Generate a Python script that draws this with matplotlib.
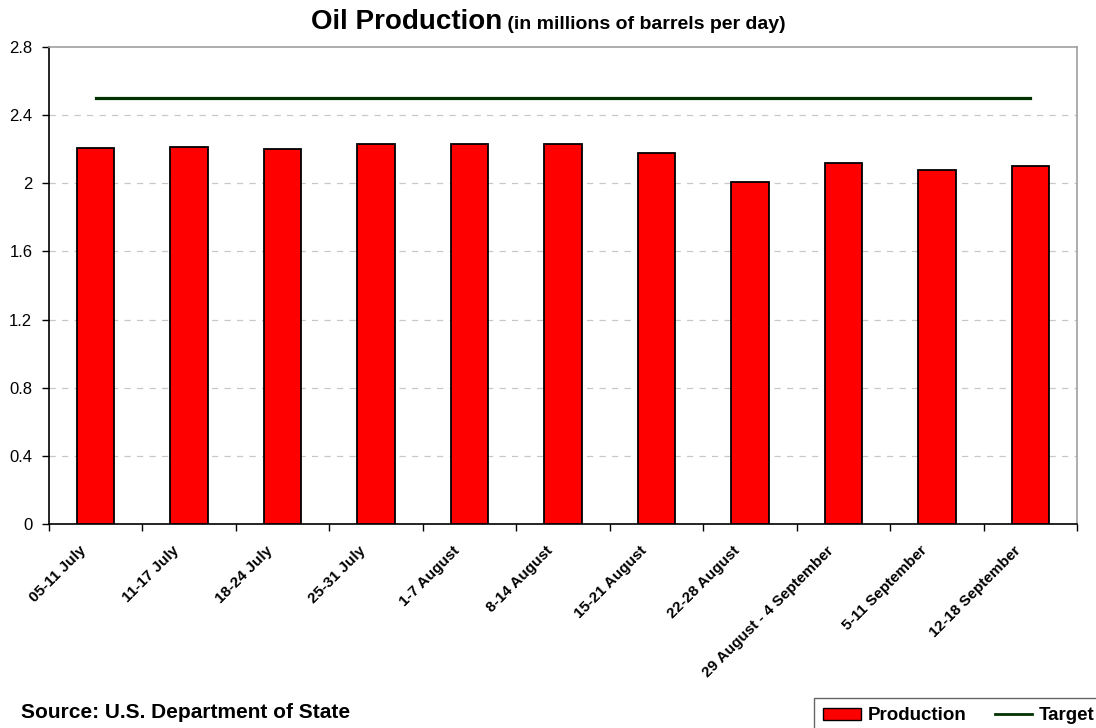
import matplotlib
matplotlib.use("Agg")
import matplotlib.pyplot as plt
import matplotlib.transforms as mtransforms
import numpy as np
from matplotlib.patches import Patch
from matplotlib.lines import Line2D

categories = ["05-11 July", "11-17 July", "18-24 July", "25-31 July", "1-7 August",
              "8-14 August", "15-21 August", "22-28 August", "29 August - 4 September",
              "5-11 September", "12-18 September"]
production = [2.205, 2.212, 2.199, 2.228, 2.228, 2.228, 2.176, 2.009, 2.122, 2.077, 2.10]
target = [2.5] * len(categories)
yticks = [0, 0.4, 0.8, 1.2, 1.6, 2.0, 2.4, 2.8]
ytick_labels = ["0", "0.4", "0.8", "1.2", "1.6", "2", "2.4", "2.8"]

plt.rcParams['font.family'] = ['Liberation Sans', 'DejaVu Sans']

fig = plt.figure(figsize=(10.96, 7.28), dpi=100)
ax = fig.add_axes([49/1096, 1-524/728, (1077-49)/1096, (524-47)/728])

x = np.arange(len(categories))
ax.bar(x, production, width=0.4, color='#ff0000', edgecolor='black', linewidth=1.3, zorder=3)
ax.plot(x, target, color='#003300', linewidth=2.3, zorder=4)

ax.set_xlim(-0.5, len(categories) - 0.5)
ax.set_ylim(0, 2.8)
ax.set_yticks(yticks)
ax.set_yticklabels(ytick_labels, fontsize=12)
for yv in yticks[1:-1]:
    ax.axhline(yv, color='#c8c8c8', linestyle=(0, (5, 5)), linewidth=0.9, zorder=1)

ax.set_xticks(x)
ax.set_xticklabels(categories, rotation=45, ha='right', rotation_mode='anchor',
                   fontsize=11, fontweight='bold')
ax.tick_params(axis='x', which='major', length=0, pad=6)
offset = mtransforms.ScaledTranslation(-0.17, -0.11, fig.dpi_scale_trans)
for lbl in ax.get_xticklabels():
    lbl.set_transform(lbl.get_transform() + offset)
ax.set_xticks(np.arange(-0.5, len(categories)), minor=True)
ax.tick_params(axis='x', which='minor', length=5, width=1, color='black', direction='out')
ax.tick_params(axis='y', length=5, width=1, direction='out', pad=7)

for side in ['left', 'bottom']:
    ax.spines[side].set_color('black')
    ax.spines[side].set_linewidth(1.2)
for side in ['top', 'right']:
    ax.spines[side].set_color('#a0a0a0')
    ax.spines[side].set_linewidth(1.2)

ty = 1 - 22/728
t1 = fig.text(0.5, ty, "Oil Production", fontsize=20, fontweight='bold',
              ha='right', va='center')
t2 = fig.text(0.5, ty, " (in millions of barrels per day)", fontsize=14, fontweight='bold',
              ha='left', va='center')
fig.canvas.draw()
r = fig.canvas.get_renderer()
w1 = t1.get_window_extent(r).width
w2 = t2.get_window_extent(r).width
left = 548 - (w1 + w2) / 2
t1.set_position(((left + w1) / 1096, ty))
t2.set_position(((left + w1) / 1096, ty - 0.003))

fig.text(21/1096, 1-703/728, "Source: U.S. Department of State", fontsize=15,
         fontweight='bold', ha='left', va='top')

handles = [Patch(facecolor='#ff0000', edgecolor='black', linewidth=1),
           Line2D([0], [0], color='#003300', linewidth=2)]
leg = fig.legend(handles, ["Production", "Target"], loc='upper left',
                 bbox_to_anchor=(814/1096, 1-698/728), ncol=2, frameon=True,
                 fancybox=False, edgecolor='#404040',
                 prop={'weight': 'bold', 'size': 13.5}, handlelength=2.0,
                 handleheight=0.6, columnspacing=1.5, handletextpad=0.37,
                 borderpad=0.5, borderaxespad=0)
leg.get_frame().set_linewidth(1.0)

fig.savefig("out.png", dpi=100)
